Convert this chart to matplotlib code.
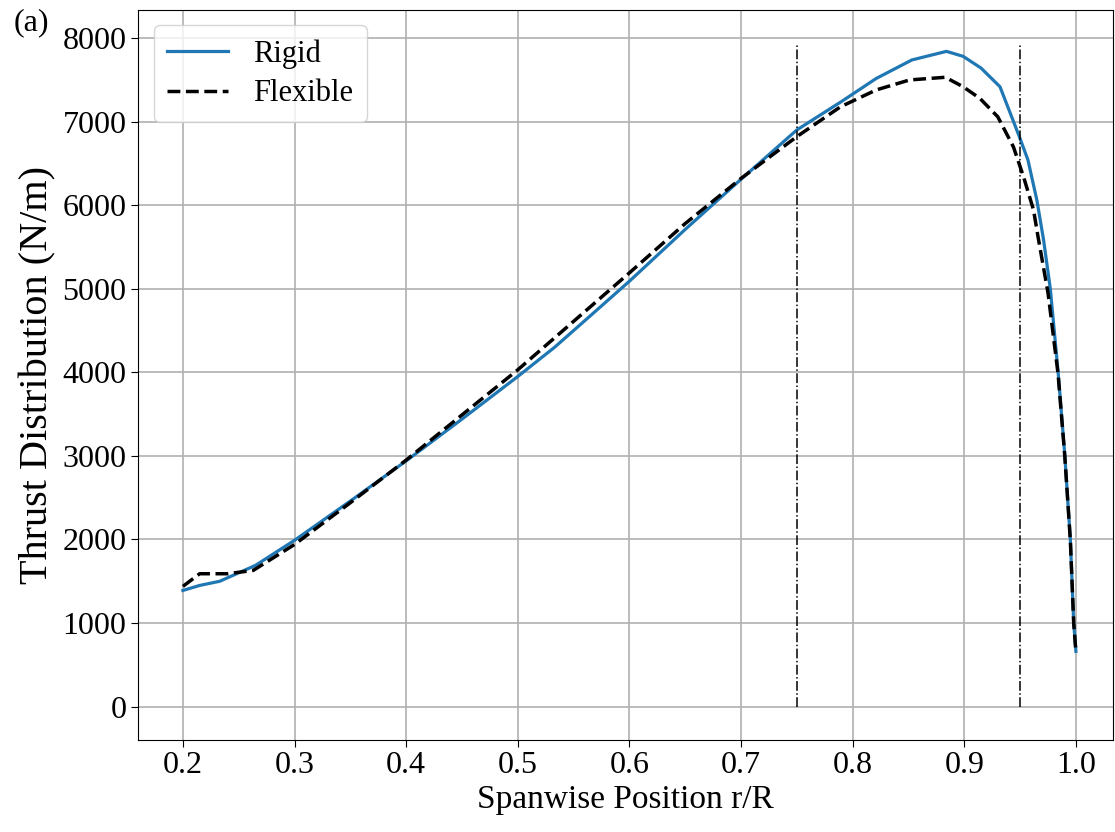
import matplotlib
matplotlib.use("Agg")
import matplotlib.pyplot as plt

plt.rcParams["font.family"] = ["Liberation Serif", "DejaVu Serif"]

# spanwise stations and thrust (N/m)
r_rigid = [0.2, 0.215, 0.233, 0.265, 0.3, 0.35, 0.4, 0.45, 0.5, 0.533, 0.567,
           0.6, 0.65, 0.7, 0.75, 0.79, 0.821, 0.853, 0.884, 0.899, 0.915, 0.932,
           0.949, 0.957, 0.965, 0.971, 0.977, 0.984, 0.990, 0.995, 0.998, 1.0]
t_rigid = [1390, 1450, 1500, 1690, 1990, 2460, 2940, 3440, 3950, 4300, 4700,
           5090, 5710, 6310, 6900, 7240, 7515, 7737, 7840, 7780, 7640, 7416,
           6830, 6541, 6060, 5585, 5006, 4010, 3013, 1997, 1001, 661]

r_flex = [0.2, 0.215, 0.24, 0.263, 0.3, 0.35, 0.4, 0.45, 0.5, 0.55, 0.6, 0.65,
          0.7, 0.75, 0.789, 0.821, 0.851, 0.883, 0.899, 0.914, 0.93, 0.944,
          0.953, 0.962, 0.966, 0.975, 0.984, 0.99, 0.995, 0.998, 1.0]
t_flex = [1439, 1590, 1590, 1630, 1940, 2440, 2950, 3490, 4030, 4610, 5190, 5780,
          6320, 6820, 7176, 7378, 7498, 7530, 7416, 7277, 7057, 6697,
          6342, 5943, 5625, 4950, 3980, 3000, 1990, 1000, 650]

# section boundaries
r_marks = [0.75, 0.95]

fig = plt.figure(figsize=(11.15, 8.32), dpi=100)
ax = fig.add_axes([0.124, 0.111, 0.874, 0.877])

ax.plot(r_rigid, t_rigid, color="#1f77b4", lw=2.3, label="Rigid")
ax.plot(r_flex, t_flex, color="black", lw=2.5, ls="--", label="Flexible")
ax.vlines(r_marks, 0, 7930, colors="black", linestyles="-.", lw=1.1)

ax.set_xlim(0.16, 1.033)
ax.set_ylim(-395, 8335)
ax.set_xticks([0.2, 0.3, 0.4, 0.5, 0.6, 0.7, 0.8, 0.9, 1.0])
ax.set_yticks(range(0, 8001, 1000))
ax.grid(True, color="#b0b0b0", lw=1.2)
ax.tick_params(labelsize=23, length=5)

ax.set_xlabel("Spanwise Position r/R", fontsize=24, labelpad=3)
ax.set_ylabel("Thrust Distribution (N/m)", fontsize=29, labelpad=4)
ax.legend(loc="upper left", fontsize=22, handlelength=2.0, borderpad=0.45,
          labelspacing=0.35)

fig.text(0.012, 0.99, "(a)", fontsize=23, va="top", ha="left")

fig.savefig("out.png", dpi=100)
